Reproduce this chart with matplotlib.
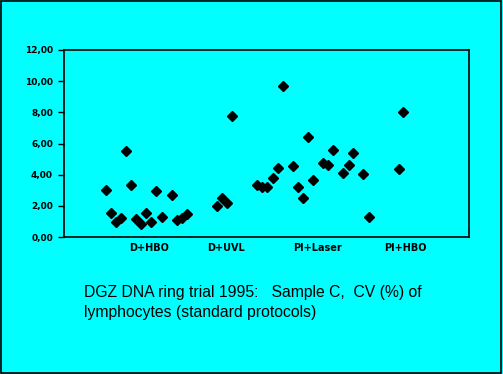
import matplotlib
matplotlib.use("Agg")
import matplotlib.pyplot as plt
from matplotlib.patches import Rectangle

# Data (x is a position along the axis, 0..100)
x_pos = [10.3, 11.5, 12.8, 14.0, 15.2, 16.5, 17.9, 19.1, 20.3, 21.6, 22.8, 24.1,
         26.6, 27.8, 29.1, 30.3,
         37.8, 39.0, 40.3, 41.4,
         47.6, 48.9, 50.2, 51.6, 52.8, 54.0, 56.5, 57.7, 59.1, 60.2, 61.5,
         63.9, 65.2, 66.5, 68.9, 70.3, 71.4, 73.8, 75.2,
         82.6, 83.8]
cv_values = [3.01, 1.52, 0.94, 1.20, 5.51, 3.31, 1.13, 0.85, 1.52, 0.98, 2.95, 1.30,
             2.67, 1.09, 1.20, 1.47,
             2.01, 2.50, 2.18, 7.77,
             3.31, 3.22, 3.22, 3.78, 4.40, 9.72, 4.53, 3.20, 2.50, 6.41, 3.67,
             4.74, 4.59, 5.59, 4.10, 4.63, 5.38, 4.06, 1.30,
             4.36, 8.01]

group_labels = ["D+HBO", "D+UVL", "PI+Laser", "PI+HBO"]
group_label_pos = [21.0, 40.1, 62.6, 84.4]

y_ticks = [0, 2, 4, 6, 8, 10, 12]
y_tick_labels = ["0,00", "2,00", "4,00", "6,00", "8,00", "10,00", "12,00"]

bg = "#00ffff"
caption_fonts = ["Liberation Sans", "DejaVu Sans"]

fig = plt.figure(figsize=(5.03, 3.74), dpi=100, facecolor=bg)
ax = fig.add_axes([64 / 503, 137 / 374, 405 / 503, 187 / 374])
ax.set_facecolor(bg)

ax.plot(x_pos, cv_values, linestyle="none", marker="D", markersize=5,
        color="black")

ax.set_xlim(0, 100)
ax.set_ylim(0, 12)

ax.set_yticks(y_ticks)
ax.set_yticklabels(y_tick_labels, fontsize=6.5, fontweight="bold")
ax.tick_params(axis="y", length=4, width=1, pad=4, color="black")

ax.set_xticks(group_label_pos)
ax.set_xticklabels(group_labels, fontsize=7, fontweight="bold")
ax.tick_params(axis="x", length=0, pad=4)

for s in ax.spines.values():
    s.set_linewidth(1.2)
    s.set_color("black")

# title block below the chart
fig.text(84 / 503, 1 - 292 / 374,
         "DGZ DNA ring trial 1995:   Sample C,  CV (%) of",
         fontsize=11.3, family=caption_fonts,
         va="center", ha="left")
fig.text(84 / 503, 1 - 313 / 374,
         "lymphocytes (standard protocols)",
         fontsize=11.3, family=caption_fonts,
         va="center", ha="left")

# outer border of the slide
fig.patches.append(Rectangle((0.001, 0.002), 0.996, 0.996, transform=fig.transFigure,
                             fill=False, edgecolor="black", linewidth=1.2))

fig.savefig("out.png", dpi=100, facecolor=bg)
